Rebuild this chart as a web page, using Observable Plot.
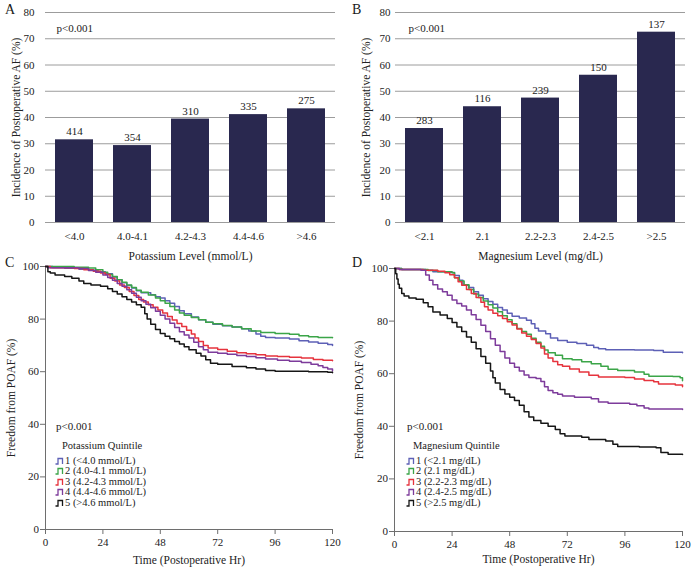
<!DOCTYPE html>
<html><head><meta charset="utf-8">
<script src="https://cdn.jsdelivr.net/npm/d3@7"></script>
<script src="https://cdn.jsdelivr.net/npm/@observablehq/plot@0.6"></script>
<style>
html,body{margin:0;padding:0;background:#fff;}
#root{position:relative;width:693px;height:570px;overflow:hidden;font-family:"Liberation Serif","Times New Roman",serif;color:#222;}
.letter{position:absolute;font-size:14px;line-height:1;color:#1a1a1a;}
.txt{position:absolute;line-height:1;white-space:nowrap;}
.row{position:absolute;line-height:1;white-space:nowrap;font-size:10.5px;display:flex;align-items:center;}
.row svg{margin-right:1px;}
</style></head><body><div id="root"></div>
<script>
// ---------- data ----------
const potCats = ["<4.0", "4.0-4.1", "4.2-4.3", "4.4-4.6", ">4.6"];
const potRates = [31.5, 29.3, 39.4, 41.1, 43.3];
const potCounts = [414, 354, 310, 335, 275];
const magCats = ["<2.1", "2.1", "2.2-2.3", "2.4-2.5", ">2.5"];
const magRates = [35.8, 44.1, 47.4, 56.1, 72.5];
const magCounts = [283, 116, 239, 150, 137];
const barTicks = [0, 10, 20, 30, 40, 50, 60, 70, 80];
const kmXTicks = [0, 24, 48, 72, 96, 120];
const kmYTicks = [0, 20, 40, 60, 80, 100];
const quintiles = ["1", "2", "3", "4", "5"];
const quintColors = ["#5d60b6", "#3ba548", "#e6333d", "#7d3b9b", "#161616"];
const potLegend = ["1 (<4.0 mmol/L)", "2 (4.0-4.1 mmol/L)", "3 (4.2-4.3 mmol/L)", "4 (4.4-4.6 mmol/L)", "5 (>4.6 mmol/L)"];
const magLegend = ["1 (<2.1 mg/dL)", "2 (2.1 mg/dL)", "3 (2.2-2.3 mg/dL)", "4 (2.4-2.5 mg/dL)", "5 (>2.5 mg/dL)"];

// Panel C: potassium quintile Kaplan-Meier curves [hour, % free]
const potQ1 = [[0,100],[3,99.6],[8,99.3],[14,99],[18,98.6],[22,98],[25,97.2],[28,96],[30,95],[32,93.8],[34,92.8],[36,91.8],[38,90.8],[40,90],[44,89.3],[46,88.5],[48,88],[50,87],[52,86],[54,84.8],[56,83.2],[58,82],[61,80.8],[64,79.8],[67,78.8],[70,78],[74,77.5],[78,77],[82,76.3],[85,75.5],[88,74.3],[90,73.5],[92,73],[96,72.8],[102,72.4],[106,71.8],[110,71.3],[114,70.8],[118,70.3],[120,70]];
const potQ2 = [[0,100],[6,100],[12,99.7],[18,99.4],[21,98.8],[24,97.8],[26,97],[28,96.2],[30,95],[32,94],[34,93],[36,92],[38,91],[40,90.2],[43,89.2],[46,88],[48,87],[50,86],[52,84.8],[54,83.5],[56,82.3],[58,81.5],[61,80.6],[64,79.8],[67,78.8],[70,78.2],[74,77.6],[78,77],[82,76.3],[86,75.5],[90,74.9],[96,74.5],[102,74.2],[106,73.7],[110,73.3],[114,73],[120,72.9]];
const potQ3 = [[0,100],[2,99.5],[12,99.2],[16,98.8],[20,98.2],[23,97.5],[25,97],[27,95.5],[29,94.5],[31,93],[33,92],[35,90.5],[37,89],[39,87.5],[41,86.5],[43,85.5],[45,84.5],[47,83.5],[49,82.3],[51,81],[53,79.7],[55,78.3],[57,77.2],[59,75.8],[61,74.3],[62.5,72.8],[64,71.5],[66,70],[68,69],[72,68.4],[76,67.8],[80,67.2],[84,66.8],[88,66.4],[92,66],[97,65.8],[102,65.5],[107,65.2],[112,64.6],[116,64.4],[120,64.2]];
const potQ4 = [[0,100],[1,99.5],[14,99.2],[18,98.5],[21,97.8],[24,96.8],[26,95.8],[28,94.8],[30,93.5],[32,92.5],[34,91.2],[36,89.8],[38,88.3],[40,87],[42,85.6],[44,84.3],[46,83],[48,81.5],[50,80],[52,78.4],[54,76.8],[56,75.2],[58,74],[60,72.8],[62,71.2],[64,69.5],[66,68.3],[68,67.4],[72,67],[76,66.6],[80,66.2],[84,65.8],[88,65.3],[92,64.8],[97,64.4],[102,64],[107,63.5],[111,62.8],[114,62.3],[116,61.6],[118,61],[120,60.3]];
const potQ5 = [[0,100],[1,98],[2,97.5],[4,96.8],[8,96.2],[11,95.5],[14,94.5],[16,93.5],[19,93],[23,92.5],[26,91.5],[28,90.5],[30,89.5],[32,88.5],[34,87.5],[36,86.5],[38,85.5],[40,84.5],[41.5,82],[42.5,80],[44,78],[46,76],[48,74.5],[50,73.5],[52,72.5],[54,71.5],[56,70.5],[58,69.5],[60,68.3],[63,67],[65,66],[67,64.5],[69,63.2],[72,62.8],[78,62],[84,61.5],[88,61],[92,60.5],[96,60.2],[110,60],[118,59.8],[120,59.6]];

// Panel D: magnesium quintile Kaplan-Meier curves [hour, % free]
const magQ1 = [[0,100],[3,99.6],[13,99.3],[16,98.8],[23,98.5],[25,97.3],[27,95.5],[28.5,93.6],[31,92.8],[33,91.2],[35,89.8],[37,88.5],[39,87.5],[41,86.4],[43,85.2],[45,84.2],[47,83],[49,81.8],[52,81.2],[55,80.3],[57,79],[58.5,77.3],[60,76.2],[63,75.2],[65,73.6],[68,72.6],[72,72],[76,71.5],[80,70.8],[83,70],[85,69.5],[88,69.1],[100,69],[108,68.8],[112,68.2],[120,68]];
const magQ2 = [[0,100],[3,99.6],[14,99.2],[18,98.8],[24,98.4],[25,96.5],[27,95.2],[29,93.8],[31,92],[33,90.3],[35,89],[37,87.6],[39,86.2],[41,85],[43,83.6],[45,82],[47,80.5],[49,79],[51,77.2],[53,76],[55,75],[57,73.5],[59,72],[61,70.4],[62.5,69],[64,68],[67,67],[70,65.7],[74,65.3],[78,64.5],[82,63.8],[86,62.8],[89,61.7],[93,61.2],[100,60.6],[104,59.8],[106,59],[116,58.9],[119,58.5],[120,57.3]];
const magQ3 = [[0,100],[2,99.6],[12,99.3],[18,99],[21,98.4],[23,97.6],[25,96.5],[26.5,95],[28,93.6],[30,92],[32,90.5],[34,89],[36,87.2],[37.5,85.5],[39,84.2],[41,83],[43,82],[45,81],[47,79.8],[49,78.5],[51,77],[53,75.5],[55,74.2],[57,73],[59,71.5],[61,69.8],[62.5,67.5],[64,66],[66,64.6],[68,63.4],[70,62.8],[73,61.8],[77,60.6],[81,59.4],[85,58.7],[96,58.6],[100,58],[104,57.4],[108,56.9],[110,56.1],[117,55.7],[120,55]];
const magQ4 = [[0,100],[2,99.6],[11,99.3],[13,97.5],[14.5,95.5],[16,93.8],[18,92.2],[20,91.2],[22,89.8],[24,88],[26,86.7],[28,85.7],[30,84.2],[32,82.4],[34,80.6],[36,78.4],[38,76],[40,73.3],[42,70.8],[44,68.4],[46,66],[48,64],[50,62.5],[52,61],[54,59.5],[56,58.6],[59,58.2],[61,57],[62.5,55],[64,53.6],[66,52.8],[68,52.2],[70,51.5],[75,51],[82,50.5],[85,49.2],[89,48.8],[98,48.4],[101,47.8],[104,47],[106,46.6],[120,46.4]];
const magQ5 = [[0,100],[0.5,98],[1,96],[1.5,94],[2,92.5],[3,90.5],[4,89.5],[6,88.8],[9,88.3],[12,87],[14,85.5],[16,83.5],[19,82.3],[22,81],[24,79.5],[26,77.8],[28,76],[30,74],[32,72],[34,69.5],[36,66.5],[38,64],[40,61],[41,58.5],[42,56.5],[44,54],[46,52.3],[48,51],[50,49.8],[52,48],[54,45.5],[56,43.5],[58,42.2],[61,41.2],[64,40],[67,38.8],[69,37.2],[71,36.3],[78,35.8],[81,35],[88,34.4],[91,33.2],[93,32.3],[102,32.1],[109,31.8],[111,30],[114,29.4],[120,29.3]];

// ---------- drawing ----------
const FONT = "Liberation Serif, Times New Roman, serif";
const BAR = "#29284f";
const root = document.getElementById("root");

function place(el, left, top) {
  el.style.position = "absolute";
  el.style.left = left + "px";
  el.style.top = top + "px";
  root.appendChild(el);
}

function barChart(cats, rates, counts, xLabel, o) {
  const data = cats.map((c, i) => ({cat: c, rate: rates[i], n: counts[i]}));
  return Plot.plot({
    width: o.width, height: 262,
    marginLeft: o.ml, marginRight: o.mr, marginTop: 12, marginBottom: 40,
    style: {fontFamily: FONT, fontSize: "11px", background: "transparent", color: "#222", overflow: "visible"},
    x: {type: "band", domain: cats, paddingInner: 0.345, paddingOuter: 0.17},
    y: {domain: [0, 80]},
    marks: [
      Plot.gridY(barTicks, {stroke: "#9c9c9c", strokeOpacity: 1}),
      Plot.barY(data, {x: "cat", y: "rate", fill: BAR}),
      Plot.text(data, {x: "cat", y: "rate", text: d => String(d.n), dy: -8, fontSize: 11}),
      Plot.axisY(barTicks, {tickSize: 0, tickPadding: o.ytp, label: null}),
      Plot.axisY([], {label: "Incidence of Postoperative AF (%)", labelAnchor: "center", labelOffset: o.ylo, labelArrow: "none", fontSize: 11.5}),
      Plot.axisX({tickSize: 0, tickPadding: 10, label: null}),
      Plot.axisX([], {label: xLabel, labelAnchor: "center", labelOffset: 37.5, labelArrow: "none", fontSize: 11.5}),
      Plot.text(["p<0.001"], {frameAnchor: "top-left", dx: o.pdx, dy: 12, textAnchor: "start", fontSize: 11})
    ]
  });
}

function kmChart(series, o) {
  const data = series.flatMap((arr, i) => arr.map(([t, s]) => ({t, s, q: quintiles[i]})));
  return Plot.plot({
    width: o.width, height: 308,
    marginLeft: o.ml, marginRight: o.mr, marginTop: o.mt, marginBottom: o.mb,
    style: {fontFamily: FONT, fontSize: "11px", background: "transparent", color: "#222", overflow: "visible"},
    x: {domain: [0, 120]},
    y: {domain: [0, 100]},
    color: {domain: quintiles, range: quintColors},
    marks: [
      Plot.ruleX(kmXTicks.slice(0, 1), {stroke: "#6e6e6e"}),
      Plot.ruleY(kmYTicks.slice(0, 1), {stroke: "#6e6e6e"}),
      Plot.line(data, {x: "t", y: "s", z: "q", stroke: "q", curve: "step-after", strokeWidth: 1.5}),
      Plot.axisX(kmXTicks, {tickSize: 5, tickPadding: 4, stroke: "#6e6e6e", label: null}),
      Plot.axisX([], {label: "Time (Postoperative Hr)", labelAnchor: "center", labelOffset: o.xlo, labelArrow: "none", fontSize: 11.5}),
      Plot.axisY(kmYTicks, {tickSize: 5, tickPadding: 1.5, stroke: "#6e6e6e", label: null}),
      Plot.axisY([], {label: "Freedom from POAF (%)", labelAnchor: "center", labelOffset: o.ylo, labelArrow: "none", fontSize: 11.5})
    ]
  });
}

place(barChart(potCats, potRates, potCounts, "Potassium Level (mmol/L)", {width: 345, ml: 45, mr: 10, ytp: 11, ylo: 34, pdx: 11}), 0, 0);
place(barChart(magCats, magRates, magCounts, "Magnesium Level (mg/dL)", {width: 348, ml: 50, mr: 8, ytp: 5, ylo: 34, pdx: 13}), 345, 0);
place(kmChart([potQ1, potQ2, potQ3, potQ4, potQ5], {width: 345, ml: 45, mr: 13, mt: 4, mb: 41, xlo: 34, ylo: 39}), 0, 262);
place(kmChart([magQ1, magQ2, magQ3, magQ4, magQ5], {width: 348, ml: 49, mr: 11, mt: 6, mb: 39, xlo: 31, ylo: 40}), 345, 262);

// panel letters
[["A", 5, 3], ["B", 352, 3], ["C", 5, 256], ["D", 352, 256]].forEach(([t, x, y]) => {
  const d = document.createElement("div"); d.className = "letter"; d.textContent = t; place(d, x, y);
});

// legends for the survival panels
function legend(x, title, texts) {
  const p = document.createElement("div"); p.className = "txt"; p.style.fontSize = "11px"; p.textContent = "p<0.001";
  place(p, x + 1, 421);
  const t = document.createElement("div"); t.className = "txt"; t.style.fontSize = "10.5px"; t.textContent = title;
  place(t, x + 7, 441);
  texts.forEach((s, i) => {
    const r = document.createElement("div"); r.className = "row";
    r.innerHTML = `<svg width="9" height="8"><path d="M0.5,7H3V1.5H7.5V7" fill="none" stroke="${quintColors[i]}" stroke-width="1.3"/></svg><span></span>`;
    r.querySelector("span").textContent = s;
    place(r, x, 455.5 + i * 10.5);
  });
}
legend(55, "Potassium Quintile", potLegend);
legend(406, "Magnesium Quintile", magLegend);
</script></body></html>
